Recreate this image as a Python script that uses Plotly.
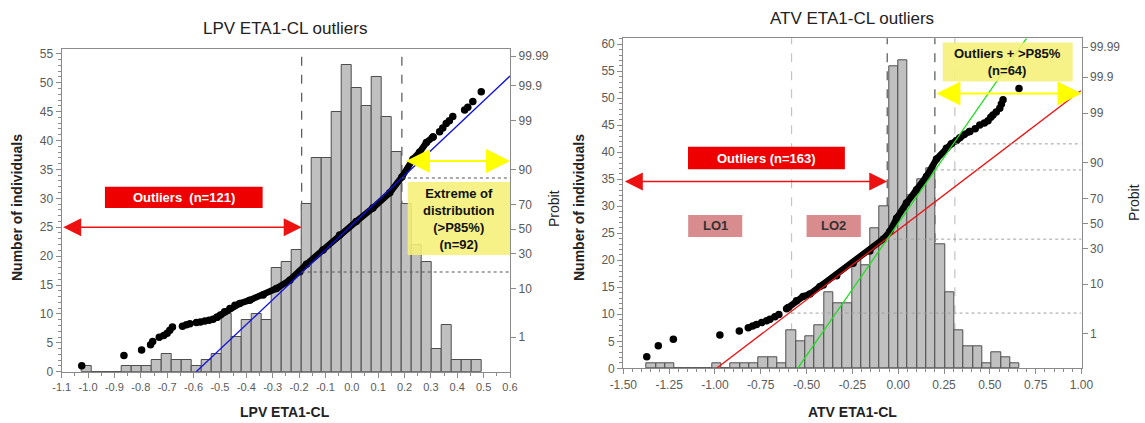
import plotly.graph_objects as go
from statistics import NormalDist

W, H = 1145, 423
FONT = "Liberation Sans, Arial, sans-serif"

# ---------------- LPV (left) data ----------------
lpv_bin_start = -1.024
lpv_bin_width = 0.03793
lpv_counts = [1, 0, 0, 0, 1, 1, 1, 2, 3, 2, 2, 1, 2, 3, 10, 6, 9, 10, 9, 18, 19, 21,
              29, 37, 37, 45, 53, 49, 46, 51, 44, 38, 29, 22, 19, 4, 8, 2, 2, 2]

# probit scores (z) of sorted individual ETA values
lpv_sparse_x = [-1.024, -0.864, -0.797, -0.763, -0.755, -0.730, -0.713, -0.700, -0.690, -0.680,
                -0.642, -0.627, -0.614, -0.589, -0.574, -0.557, -0.541, -0.526, -0.511,
                0.308, 0.333, 0.345, 0.358, 0.370, 0.383, 0.428, 0.440, 0.459, 0.491]
lpv_sparse_z = [-2.94, -2.72, -2.60, -2.49, -2.42, -2.33, -2.29, -2.24, -2.18, -2.11,
                -2.09, -2.06, -2.04, -2.01, -2.00, -1.98, -1.96, -1.94, -1.90,
                1.98, 2.09, 2.17, 2.27, 2.33, 2.42, 2.56, 2.62, 2.74, 2.95]
lpv_dense_x = [-0.511, -0.498, -0.482, -0.462, -0.443, -0.425, -0.387, -0.336, -0.286, -0.235,
               -0.197, -0.172, -0.109, -0.046, 0.017, 0.080, 0.144, 0.190, 0.232, 0.257,
               0.283, 0.308]
lpv_dense_z = [-1.90, -1.85, -1.78, -1.71, -1.64, -1.60, -1.53, -1.42, -1.28, -1.10,
               -0.92, -0.76, -0.45, -0.13, 0.16, 0.45, 0.78, 1.12, 1.50, 1.65,
               1.86, 1.98]
lpv_fit_x = [-0.59, 0.60]
lpv_fit_z = [-3.07, 3.29]

lpv_x_ticks = ["-1.1", "-1.0", "-0.9", "-0.8", "-0.7", "-0.6", "-0.5", "-0.4", "-0.3",
               "-0.2", "-0.1", "0.0", "0.1", "0.2", "0.3", "0.4", "0.5", "0.6"]
lpv_cut_dark = [-0.19, 0.19]
lpv_dotted_z = [-0.925, 1.097]
lpv_dotted_from = [-0.19, 0.19]

# ---------------- ATV (right) data ----------------
atv_bin_start = -1.372
atv_bin_width = 0.05085
atv_counts = [1, 1, 1, 0, 0, 0, 0, 1, 0, 1, 1, 1, 2, 2, 1, 7, 5, 6, 8, 14, 12, 12, 20, 19,
              26, 30, 56, 57, 32, 35, 37, 23, 14, 7, 4, 4, 1, 3, 2, 1]

atv_sparse_x = [-1.372, -1.309, -1.227, -0.973, -0.867, -0.818, -0.794, -0.773, -0.745,
                -0.718, -0.700, -0.673, -0.651,
                0.390, 0.420, 0.445, 0.470, 0.490, 0.505, 0.517, 0.535, 0.554, 0.563, 0.572, 0.659]
atv_sparse_z = [-2.81, -2.58, -2.44, -2.35, -2.27, -2.20, -2.16, -2.13, -2.09,
                -2.05, -2.02, -1.97, -1.92,
                1.94, 2.00, 2.08, 2.12, 2.17, 2.24, 2.29, 2.35, 2.43, 2.52, 2.61, 2.85]
atv_dense_x = [-0.609, -0.600, -0.555, -0.519, -0.482, -0.427, -0.409, -0.336, -0.246, -0.155,
               -0.082, -0.046, -0.009, 0.045, 0.100, 0.154, 0.209, 0.263, 0.290, 0.318,
               0.336, 0.360, 0.390]
atv_dense_z = [-1.80, -1.77, -1.63, -1.54, -1.49, -1.33, -1.30, -1.10, -0.84, -0.58,
               -0.33, -0.17, 0.11, 0.43, 0.71, 0.99, 1.36, 1.59, 1.68, 1.75,
               1.81, 1.88, 1.94]
atv_fit_all_x = [-0.991, 0.996]
atv_fit_all_z = [-3.055, 2.80]
atv_fit_core_x = [-0.549, 0.700]
atv_fit_core_z = [-3.055, 3.907]

atv_x_ticks = ["-1.50", "-1.25", "-1.00", "-0.75", "-0.50", "-0.25", "0.00", "0.25",
               "0.50", "0.75", "1.00"]
atv_cut_light = [-0.582, 0.309]
atv_cut_dark = [-0.06, 0.20]
atv_dotted_z = [1.68, 1.13, -0.33, -1.89]
atv_dotted_from = [0.309, 0.20, -0.06, -0.582]

probit_labels = ["1", "10", "30", "50", "70", "90", "99", "99.9", "99.99"]
probit_vals = [NormalDist().inv_cdf(float(p) / 100.0) for p in probit_labels]

# ---------------- figure ----------------
fig = go.Figure()

BAR_FILL = "#c0c0c0"
BAR_LINE = "#4d4d4d"

fig.add_trace(go.Bar(
    x=[lpv_bin_start + i * lpv_bin_width for i in range(len(lpv_counts))],
    y=lpv_counts, width=lpv_bin_width, offset=0,
    marker=dict(color=BAR_FILL, line=dict(color=BAR_LINE, width=1)),
    xaxis="x", yaxis="y", showlegend=False, hoverinfo="skip"))

fig.add_trace(go.Scatter(
    x=lpv_dense_x, y=lpv_dense_z, mode="lines+markers",
    line=dict(color="black", width=6.5), marker=dict(color="black", size=7.5),
    xaxis="x", yaxis="y2", showlegend=False))
fig.add_trace(go.Scatter(
    x=lpv_sparse_x, y=lpv_sparse_z, mode="markers",
    marker=dict(color="black", size=7.5),
    xaxis="x", yaxis="y2", showlegend=False))
fig.add_trace(go.Scatter(
    x=lpv_fit_x, y=lpv_fit_z, mode="lines",
    line=dict(color="#1010e0", width=1.3),
    xaxis="x", yaxis="y2", showlegend=False))

fig.add_trace(go.Bar(
    x=[atv_bin_start + i * atv_bin_width for i in range(len(atv_counts))],
    y=atv_counts, width=atv_bin_width, offset=0,
    marker=dict(color=BAR_FILL, line=dict(color=BAR_LINE, width=1)),
    xaxis="x2", yaxis="y3", showlegend=False, hoverinfo="skip"))

fig.add_trace(go.Scatter(
    x=atv_dense_x, y=atv_dense_z, mode="lines+markers",
    line=dict(color="black", width=6.5), marker=dict(color="black", size=7.5),
    xaxis="x2", yaxis="y4", showlegend=False))
fig.add_trace(go.Scatter(
    x=atv_sparse_x, y=atv_sparse_z, mode="markers",
    marker=dict(color="black", size=7.5),
    xaxis="x2", yaxis="y4", showlegend=False))
fig.add_trace(go.Scatter(
    x=atv_fit_all_x, y=atv_fit_all_z, mode="lines",
    line=dict(color="#ee1111", width=1.3),
    xaxis="x2", yaxis="y4", showlegend=False))
fig.add_trace(go.Scatter(
    x=atv_fit_core_x, y=atv_fit_core_z, mode="lines",
    line=dict(color="#22dd22", width=1.3),
    xaxis="x2", yaxis="y4", showlegend=False))

# ---------------- axes ----------------
AX_LINE = "#8a8a8a"
TICK_FONT = dict(family=FONT, size=12, color="#5a5a5a")
TICK_FONT_SMALL = dict(family=FONT, size=11, color="#5a5a5a")


def px_x(X):
    return X / W


def px_y(Y):
    return 1 - Y / H


common = dict(showline=True, linecolor=AX_LINE, linewidth=1.2, ticks="outside",
              ticklen=5, tickcolor=AX_LINE, showgrid=False,
              zeroline=False, automargin=False)

fig.update_layout(
    template="none",
    width=W, height=H, margin=dict(l=0, r=0, t=0, b=0, pad=0),
    paper_bgcolor="white", plot_bgcolor="white", bargap=0,
    showlegend=False,
    xaxis=dict(domain=[px_x(61.7), px_x(510)], range=[-1.1, 0.6], anchor="y",
               tickmode="array", tickvals=[float(t) for t in lpv_x_ticks],
               ticktext=lpv_x_ticks, mirror=True, tickfont=TICK_FONT_SMALL,
               minor=dict(tickmode="linear", tick0=-1.1, dtick=0.05, ticklen=3,
                          tickcolor=AX_LINE, ticks="outside"),
               **common),
    yaxis=dict(domain=[px_y(371.7), px_y(49)], range=[0, 55.83], anchor="x",
               tickmode="linear", tick0=0, dtick=5, tickfont=TICK_FONT,
               minor=dict(tickmode="linear", tick0=0, dtick=1, ticklen=3,
                          tickcolor=AX_LINE, ticks="outside"),
               **common),
    yaxis2=dict(overlaying="y", side="right", anchor="x",
                range=[-3.069, 3.871], tickmode="array", tickvals=probit_vals,
                ticktext=probit_labels, tickfont=TICK_FONT, **common),
    xaxis2=dict(domain=[px_x(623.3), px_x(1081.5)], range=[-1.5, 1.0], anchor="y3",
                tickmode="array", tickvals=[float(t) for t in atv_x_ticks],
                ticktext=atv_x_ticks, mirror=True, tickfont=TICK_FONT,
                minor=dict(tickmode="linear", tick0=-1.5, dtick=0.05, ticklen=3,
                           tickcolor=AX_LINE, ticks="outside"),
                **common),
    yaxis3=dict(domain=[px_y(368.3), px_y(38.3)], range=[0, 61.1], anchor="x2",
                tickmode="linear", tick0=0, dtick=5, tickfont=TICK_FONT,
                minor=dict(tickmode="linear", tick0=0, dtick=1, ticklen=3,
                           tickcolor=AX_LINE, ticks="outside"),
                **common),
    yaxis4=dict(overlaying="y3", side="right", anchor="x2",
                range=[-3.055, 3.907], tickmode="array", tickvals=probit_vals,
                ticktext=probit_labels, tickfont=TICK_FONT, **common),
)

shapes = []
# vertical cut lines (behind bars)
for xv in lpv_cut_dark:
    shapes.append(dict(type="line", xref="x", yref="y domain", x0=xv, x1=xv, y0=0, y1=1,
                       line=dict(color="#555555", width=1.2, dash="dash"), layer="below"))
for xv in atv_cut_dark:
    shapes.append(dict(type="line", xref="x2", yref="y3 domain", x0=xv, x1=xv, y0=0, y1=1,
                       line=dict(color="#555555", width=1.2, dash="dash"), layer="below"))
for xv in atv_cut_light:
    shapes.append(dict(type="line", xref="x2", yref="y3 domain", x0=xv, x1=xv, y0=0, y1=1,
                       line=dict(color="#c4c4c4", width=1.2, dash="dash"), layer="below"))
# dotted horizontal probit levels
for zv, x0 in zip(lpv_dotted_z, lpv_dotted_from):
    shapes.append(dict(type="line", xref="x", yref="y2", x0=x0, x1=0.6, y0=zv, y1=zv,
                       line=dict(color="#555555", width=1, dash="dot")))
for zv, x0 in zip(atv_dotted_z, atv_dotted_from):
    shapes.append(dict(type="line", xref="x2", yref="y4", x0=x0, x1=1.0, y0=zv, y1=zv,
                       line=dict(color="#a0a0a0", width=1, dash="dot")))

# label boxes
shapes.append(dict(type="rect", xref="x", yref="y", x0=-0.936, x1=-0.338, y0=28.3, y1=32.0,
                   fillcolor="#ee0000", line=dict(width=0)))
shapes.append(dict(type="rect", xref="x", yref="y", x0=0.212, x1=0.6, y0=20.2, y1=32.8,
                   fillcolor="rgba(245,240,120,0.88)", line=dict(width=0)))
shapes.append(dict(type="rect", xref="x2", yref="y3", x0=-1.147, x1=-0.291, y0=36.85, y1=41.0,
                   fillcolor="#ee0000", line=dict(width=0)))
shapes.append(dict(type="rect", xref="x2", yref="y3", x0=0.243, x1=0.952, y0=53.1, y1=60.3,
                   fillcolor="rgba(245,240,120,0.88)", line=dict(width=0)))
shapes.append(dict(type="rect", xref="x2", yref="y3", x0=-1.146, x1=-0.851, y0=24.3, y1=28.4,
                   fillcolor="#d98c8e", line=dict(width=0)))
shapes.append(dict(type="rect", xref="x2", yref="y3", x0=-0.5, x1=-0.204, y0=24.3, y1=28.4,
                   fillcolor="#d98c8e", line=dict(width=0)))
fig.update_layout(shapes=shapes)

ann = []


def arrow(xr, yr, x0, x1, y, color, width):
    ann.append(dict(xref=xr, yref=yr, axref=xr, ayref=yr, x=x1, y=y, ax=x0, ay=y,
                    text="", showarrow=True, arrowhead=2, startarrowhead=2,
                    arrowside="end+start", arrowsize=2.4, startarrowsize=2.4,
                    arrowwidth=width, arrowcolor=color))


arrow("x", "y", -1.1, -0.19, 25.0, "#ee1111", 1.5)
arrow("x", "y", 0.20, 0.6, 36.45, "#ffff00", 2)
arrow("x2", "y3", -1.5, -0.06, 34.6, "#ee1111", 1.5)
arrow("x2", "y3", 0.20, 1.0, 50.9, "#ffff00", 2)

BOLD = dict(family=FONT, size=13, color="white")
C = dict(xanchor="center", yanchor="middle", showarrow=False)
ann.append(dict(xref="x", yref="y", x=-0.637, y=30.15, text="<b>Outliers  (n=121)</b>",
                font=BOLD, **C))
ann.append(dict(xref="x2", yref="y3", x=-0.719, y=38.9, text="<b>Outliers (n=163)</b>",
                font=BOLD, **C))
ann.append(dict(xref="x", yref="y", x=0.406, y=26.5,
                text="<b>Extreme of<br>distribution<br>(>P85%)<br>(n=92)</b>",
                font=dict(family=FONT, size=13, color="#111111"), **C))
ann.append(dict(xref="x2", yref="y3", x=0.597, y=56.7,
                text="<b>Outliers + >P85%<br>(n=64)</b>",
                font=dict(family=FONT, size=13, color="#111111"), **C))
ann.append(dict(xref="x2", yref="y3", x=-0.998, y=26.35, text="<b>LO1</b>",
                font=dict(family=FONT, size=13, color="#333333"), **C))
ann.append(dict(xref="x2", yref="y3", x=-0.352, y=26.35, text="<b>LO2</b>",
                font=dict(family=FONT, size=13, color="#333333"), **C))

TITLE = dict(family=FONT, size=17, color="#222222")
AXT = dict(family=FONT, size=14, color="#222222")
ann.append(dict(xref="paper", yref="paper", x=px_x(285), y=px_y(29), text="LPV ETA1-CL outliers",
                font=TITLE, **C))
ann.append(dict(xref="paper", yref="paper", x=px_x(852), y=px_y(19), text="ATV ETA1-CL outliers",
                font=TITLE, **C))
ann.append(dict(xref="paper", yref="paper", x=px_x(285), y=px_y(412), text="<b>LPV ETA1-CL</b>",
                font=AXT, **C))
ann.append(dict(xref="paper", yref="paper", x=px_x(852), y=px_y(412), text="<b>ATV ETA1-CL</b>",
                font=AXT, **C))
ann.append(dict(xref="paper", yref="paper", x=px_x(17), y=px_y(208), text="<b>Number of individuals</b>",
                font=AXT, textangle=-90, **C))
ann.append(dict(xref="paper", yref="paper", x=px_x(579), y=px_y(208), text="<b>Number of individuals</b>",
                font=AXT, textangle=-90, **C))
ann.append(dict(xref="paper", yref="paper", x=px_x(554), y=px_y(209), text="Probit",
                font=AXT, textangle=-90, **C))
ann.append(dict(xref="paper", yref="paper", x=px_x(1134), y=px_y(203), text="Probit",
                font=AXT, textangle=-90, **C))
fig.update_layout(annotations=ann)

fig.write_html("out.html")
